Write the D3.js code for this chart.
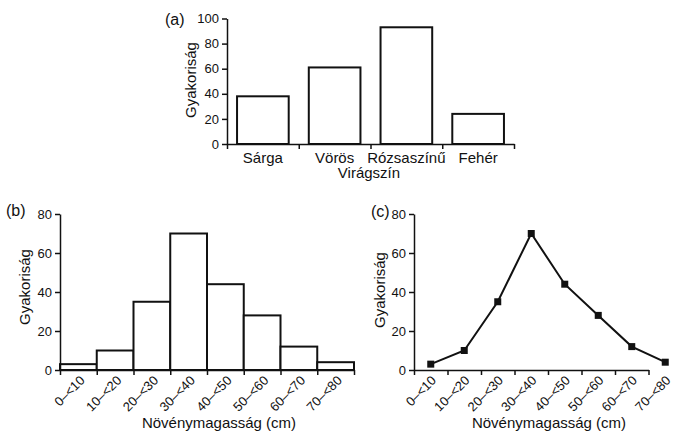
<!DOCTYPE html>
<html>
<head>
<meta charset="utf-8">
<script src="https://cdn.jsdelivr.net/npm/d3@7"></script>
<style>
  body { margin: 0; background: #fff; }
  svg { display: block; font-family: "Liberation Sans", Arial, sans-serif; }
  .axis path, .axis line { stroke: #111; stroke-width: 1.5; }
  .axis text { font-size: 13px; fill: #111; }
</style>
</head>
<body>
<svg id="chart" width="677" height="434"></svg>
<script>
// (a) flower colour
const colours = ["Sárga", "Vörös", "Rózsaszínű", "Fehér"]
const colourCounts = [38, 61, 93, 24]
const yTicksA = [0, 20, 40, 60, 80, 100]

// (b) and (c) plant height
const heightBins = ["0–<10", "10–<20", "20–<30", "30–<40", "40–<50", "50–<60", "60–<70", "70–<80"]
const binStarts = [0, 10, 20, 30, 40, 50, 60, 70]
const heightCounts = [3, 10, 35, 70, 44, 28, 12, 4]
const yTicksBC = [0, 20, 40, 60, 80]

const svg = d3.select("#chart")
const ink = "#111"

function rotatedTitle(x, y, txt) {
    svg.append("text")
        .attr("transform", `translate(${x},${y}) rotate(-90)`)
        .attr("text-anchor", "middle")
        .style("font-size", "15px")
        .style("fill", ink)
        .text(txt)
}

function plainText(x, y, txt, size, anchor) {
    svg.append("text")
        .attr("x", x).attr("y", y)
        .attr("text-anchor", anchor || "middle")
        .style("font-size", size + "px")
        .style("fill", ink)
        .text(txt)
}

// ---------- (a) ----------
{
    const x = d3.scaleBand().domain(colours).range([227, 514]).paddingInner(0.28).paddingOuter(0.14)
    const edges = d3.scaleLinear().domain([0, colours.length]).range([227, 514])
    const y = d3.scaleLinear().domain([0, 100]).range([144, 18.5])

    svg.append("g").selectAll("rect")
        .data(colours)
        .join("rect")
        .attr("x", d => x(d))
        .attr("y", (d, i) => y(colourCounts[i]))
        .attr("width", x.bandwidth())
        .attr("height", (d, i) => y(0) - y(colourCounts[i]))
        .style("fill", "#fff")
        .style("stroke", ink)
        .style("stroke-width", 2)

    svg.append("g").attr("class", "axis")
        .attr("transform", "translate(227,0)")
        .call(d3.axisLeft(y).tickValues(yTicksA).tickSize(5).tickSizeOuter(0).tickPadding(3))

    const xa = svg.append("g").attr("class", "axis")
        .attr("transform", "translate(0,144)")
        .call(d3.axisBottom(edges).tickValues(d3.range(colours.length + 1)).tickFormat("").tickSize(5).tickSizeOuter(0))

    svg.append("g").selectAll("text")
        .data(colours)
        .join("text")
        .attr("x", d => x(d) + x.bandwidth() / 2)
        .attr("y", 163)
        .attr("text-anchor", "middle")
        .style("font-size", "15px")
        .style("fill", ink)
        .text(d => d)

    plainText(369, 178, "Virágszín", 15)
    rotatedTitle(196, 80, "Gyakoriság")
    plainText(165, 25, "(a)", 16, "start")
}

// ---------- (b) ----------
{
    const x = d3.scaleLinear().domain([0, 80]).range([60, 354])
    const y = d3.scaleLinear().domain([0, 80]).range([370, 214])

    svg.append("g").selectAll("rect")
        .data(binStarts)
        .join("rect")
        .attr("x", d => x(d))
        .attr("y", (d, i) => y(heightCounts[i]))
        .attr("width", d => x(d + 10) - x(d))
        .attr("height", (d, i) => y(0) - y(heightCounts[i]))
        .style("fill", "#fff")
        .style("stroke", ink)
        .style("stroke-width", 2)

    svg.append("g").attr("class", "axis")
        .attr("transform", "translate(60,0)")
        .call(d3.axisLeft(y).tickValues(yTicksBC).tickSize(5).tickSizeOuter(0).tickPadding(3))

    svg.append("g").attr("class", "axis")
        .attr("transform", "translate(0,370)")
        .call(d3.axisBottom(x).tickValues(binStarts.concat([80])).tickFormat("").tickSize(5).tickSizeOuter(0))

    svg.append("g").selectAll("text")
        .data(heightBins)
        .join("text")
        .attr("transform", (d, i) => `translate(${x(binStarts[i] + 5) + 4},${378}) rotate(-45)`)
        .attr("text-anchor", "end")
        .attr("dy", "0.35em")
        .style("font-size", "13px")
        .style("fill", ink)
        .text(d => d)

    plainText(219, 428, "Növénymagasság (cm)", 15)
    rotatedTitle(30, 287, "Gyakoriság")
    plainText(6, 216, "(b)", 16, "start")
}

// ---------- (c) ----------
{
    const x = d3.scaleLinear().domain([0, 80]).range([414, 682])
    const y = d3.scaleLinear().domain([0, 80]).range([370, 214])

    svg.append("g").attr("class", "axis")
        .attr("transform", "translate(414,0)")
        .call(d3.axisLeft(y).tickValues(yTicksBC).tickSize(5).tickSizeOuter(0).tickPadding(3))

    const xc = d3.scaleLinear().domain([0, 70]).range([x(0), x(70)])
    svg.append("g").attr("class", "axis")
        .attr("transform", "translate(0,370)")
        .call(d3.axisBottom(xc).tickValues(binStarts).tickFormat("").tickSize(5).tickSizeOuter(0))

    const pts = binStarts.map((d, i) => [x(d + 5), y(heightCounts[i])])

    svg.append("path")
        .datum(pts)
        .attr("d", d3.line())
        .style("fill", "none")
        .style("stroke", ink)
        .style("stroke-width", 2)

    svg.append("g").selectAll("rect")
        .data(pts)
        .join("rect")
        .attr("x", d => d[0] - 3.5)
        .attr("y", d => d[1] - 3.5)
        .attr("width", 7)
        .attr("height", 7)
        .style("fill", ink)

    svg.append("g").selectAll("text")
        .data(heightBins)
        .join("text")
        .attr("transform", (d, i) => `translate(${x(binStarts[i] + 5) + 3},${378}) rotate(-45)`)
        .attr("text-anchor", "end")
        .attr("dy", "0.35em")
        .style("font-size", "13px")
        .style("fill", ink)
        .text(d => d)

    plainText(549, 428, "Növénymagasság (cm)", 15)
    rotatedTitle(385, 290, "Gyakoriság")
    plainText(371, 217, "(c)", 16, "start")
}
</script>
</body>
</html>
